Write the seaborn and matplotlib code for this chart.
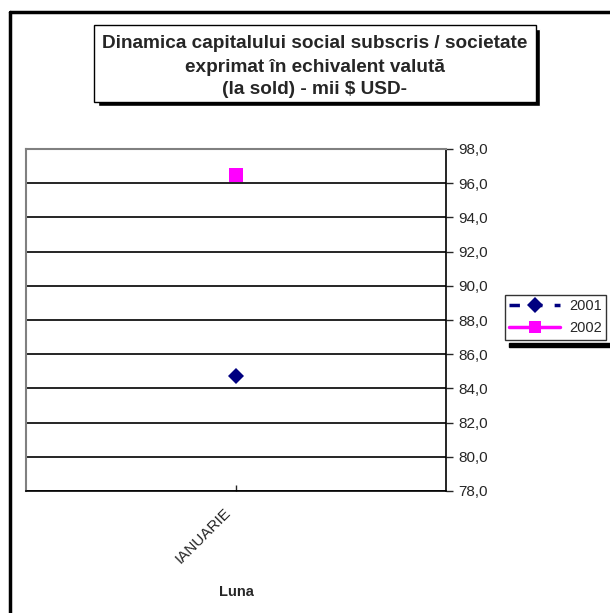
import pandas as pd
import seaborn as sns
import matplotlib.pyplot as plt
from matplotlib.patches import Rectangle
from matplotlib.lines import Line2D
from matplotlib.ticker import FuncFormatter
from matplotlib.transforms import ScaledTranslation

# data
luni = ['IANUARIE']
ani = ['2001', '2002']
val_2001 = [84.7]
val_2002 = [96.5]

df = pd.DataFrame({
    'luna': luni * 2,
    'valoare': val_2001 + val_2002,
    'an': [ani[0]] * len(luni) + [ani[1]] * len(luni),
})

sns.set_style('white')
plt.rcParams['font.family'] = ['Liberation Sans', 'DejaVu Sans']

fig = plt.figure(figsize=(6.1, 6.13), dpi=100)
W, H = 610, 613

def fx(px):
    return px / W

def fy(py):
    return 1 - py / H

ax = fig.add_axes([fx(26), fy(491), fx(446) - fx(26), fy(149) - fy(491)])

sns.lineplot(
    data=df, x='luna', y='valoare', hue='an', style='an',
    palette={'2001': '#000080', '2002': '#ff00ff'},
    dashes={'2001': (3, 3.5), '2002': ''},
    markers={'2001': 'D', '2002': 's'},
    markeredgewidth=0, linewidth=2.5, ax=ax,
)
# marker sizes per series
for line in ax.get_lines():
    if line.get_marker() == 'D':
        line.set_markersize(8)
    elif line.get_marker() == 's':
        line.set_markersize(10)

ax.set_xlim(-0.5, 0.5)
ax.set_ylim(78, 98)
ax.set_yticks(range(78, 99, 2))
ax.yaxis.set_major_formatter(FuncFormatter(lambda v, p: f'{v:.1f}'.replace('.', ',')))
ax.yaxis.tick_right()
ax.grid(axis='y', color='black', linewidth=1.2)
ax.tick_params(axis='y', direction='out', length=5, width=1, labelsize=11, pad=4, right=True)
ax.tick_params(axis='x', direction='in', length=4, width=1, bottom=True, labelsize=11)
shift = ScaledTranslation(-9 / 72, -7 / 72, fig.dpi_scale_trans)
for lab in ax.get_xticklabels():
    lab.set_rotation(45)
    lab.set_ha('right')
    lab.set_rotation_mode('anchor')
    lab.set_transform(lab.get_transform() + shift)

for side in ['top', 'left']:
    ax.spines[side].set_color('#808080')
    ax.spines[side].set_linewidth(1.5)
ax.spines['right'].set_color('black')
ax.spines['right'].set_linewidth(1.2)
ax.spines['bottom'].set_color('black')
ax.spines['bottom'].set_linewidth(1.2)

ax.set_ylabel('')
ax.set_xlabel('Luna', fontsize=10.5, fontweight='bold')
ax.xaxis.set_label_coords(0.5, (491 - 585) / 342)

# legend
handles, labels = ax.get_legend_handles_labels()
for h in handles:
    if h.get_marker() == 'D':
        h.set_markersize(8)
    elif h.get_marker() == 's':
        h.set_markersize(9)
leg = ax.legend(handles, labels, loc='upper left',
                bbox_to_anchor=(fx(505), fy(295)), bbox_transform=fig.transFigure,
                frameon=True, fancybox=False, fontsize=10.5, handlelength=3.5,
                handletextpad=0.6, borderpad=0.3, labelspacing=0.55,
                borderaxespad=0)
leg.get_frame().set_edgecolor('black')
leg.get_frame().set_linewidth(1)
fig.patches.append(Rectangle((fx(509), fy(347)), fx(610) - fx(509), fy(343) - fy(347),
                             transform=fig.transFigure, color='black', zorder=0))

# outer frame
fig.add_artist(Line2D([fx(10), 1], [fy(12), fy(12)], color='black', linewidth=2.5))
fig.add_artist(Line2D([fx(10), fx(10)], [fy(12), 0], color='black', linewidth=2.5))

# title box with shadow
fig.patches.append(Rectangle((fx(98), fy(106)), fx(540) - fx(98), fy(29) - fy(106),
                             transform=fig.transFigure, facecolor='black', zorder=1))
fig.patches.append(Rectangle((fx(94), fy(102)), fx(536) - fx(94), fy(25) - fy(102),
                             transform=fig.transFigure, facecolor='white',
                             edgecolor='black', linewidth=1, zorder=2))
titlu = ['Dinamica capitalului social subscris / societate',
         'exprimat în echivalent valută',
         '(la sold) - mii $ USD-']
for i, t in enumerate(titlu):
    fig.text(fx(315), fy(44 + 23 * i), t, ha='center', va='center',
             fontsize=13.7, fontweight='bold', zorder=3)

fig.savefig('out.png', dpi=100)
